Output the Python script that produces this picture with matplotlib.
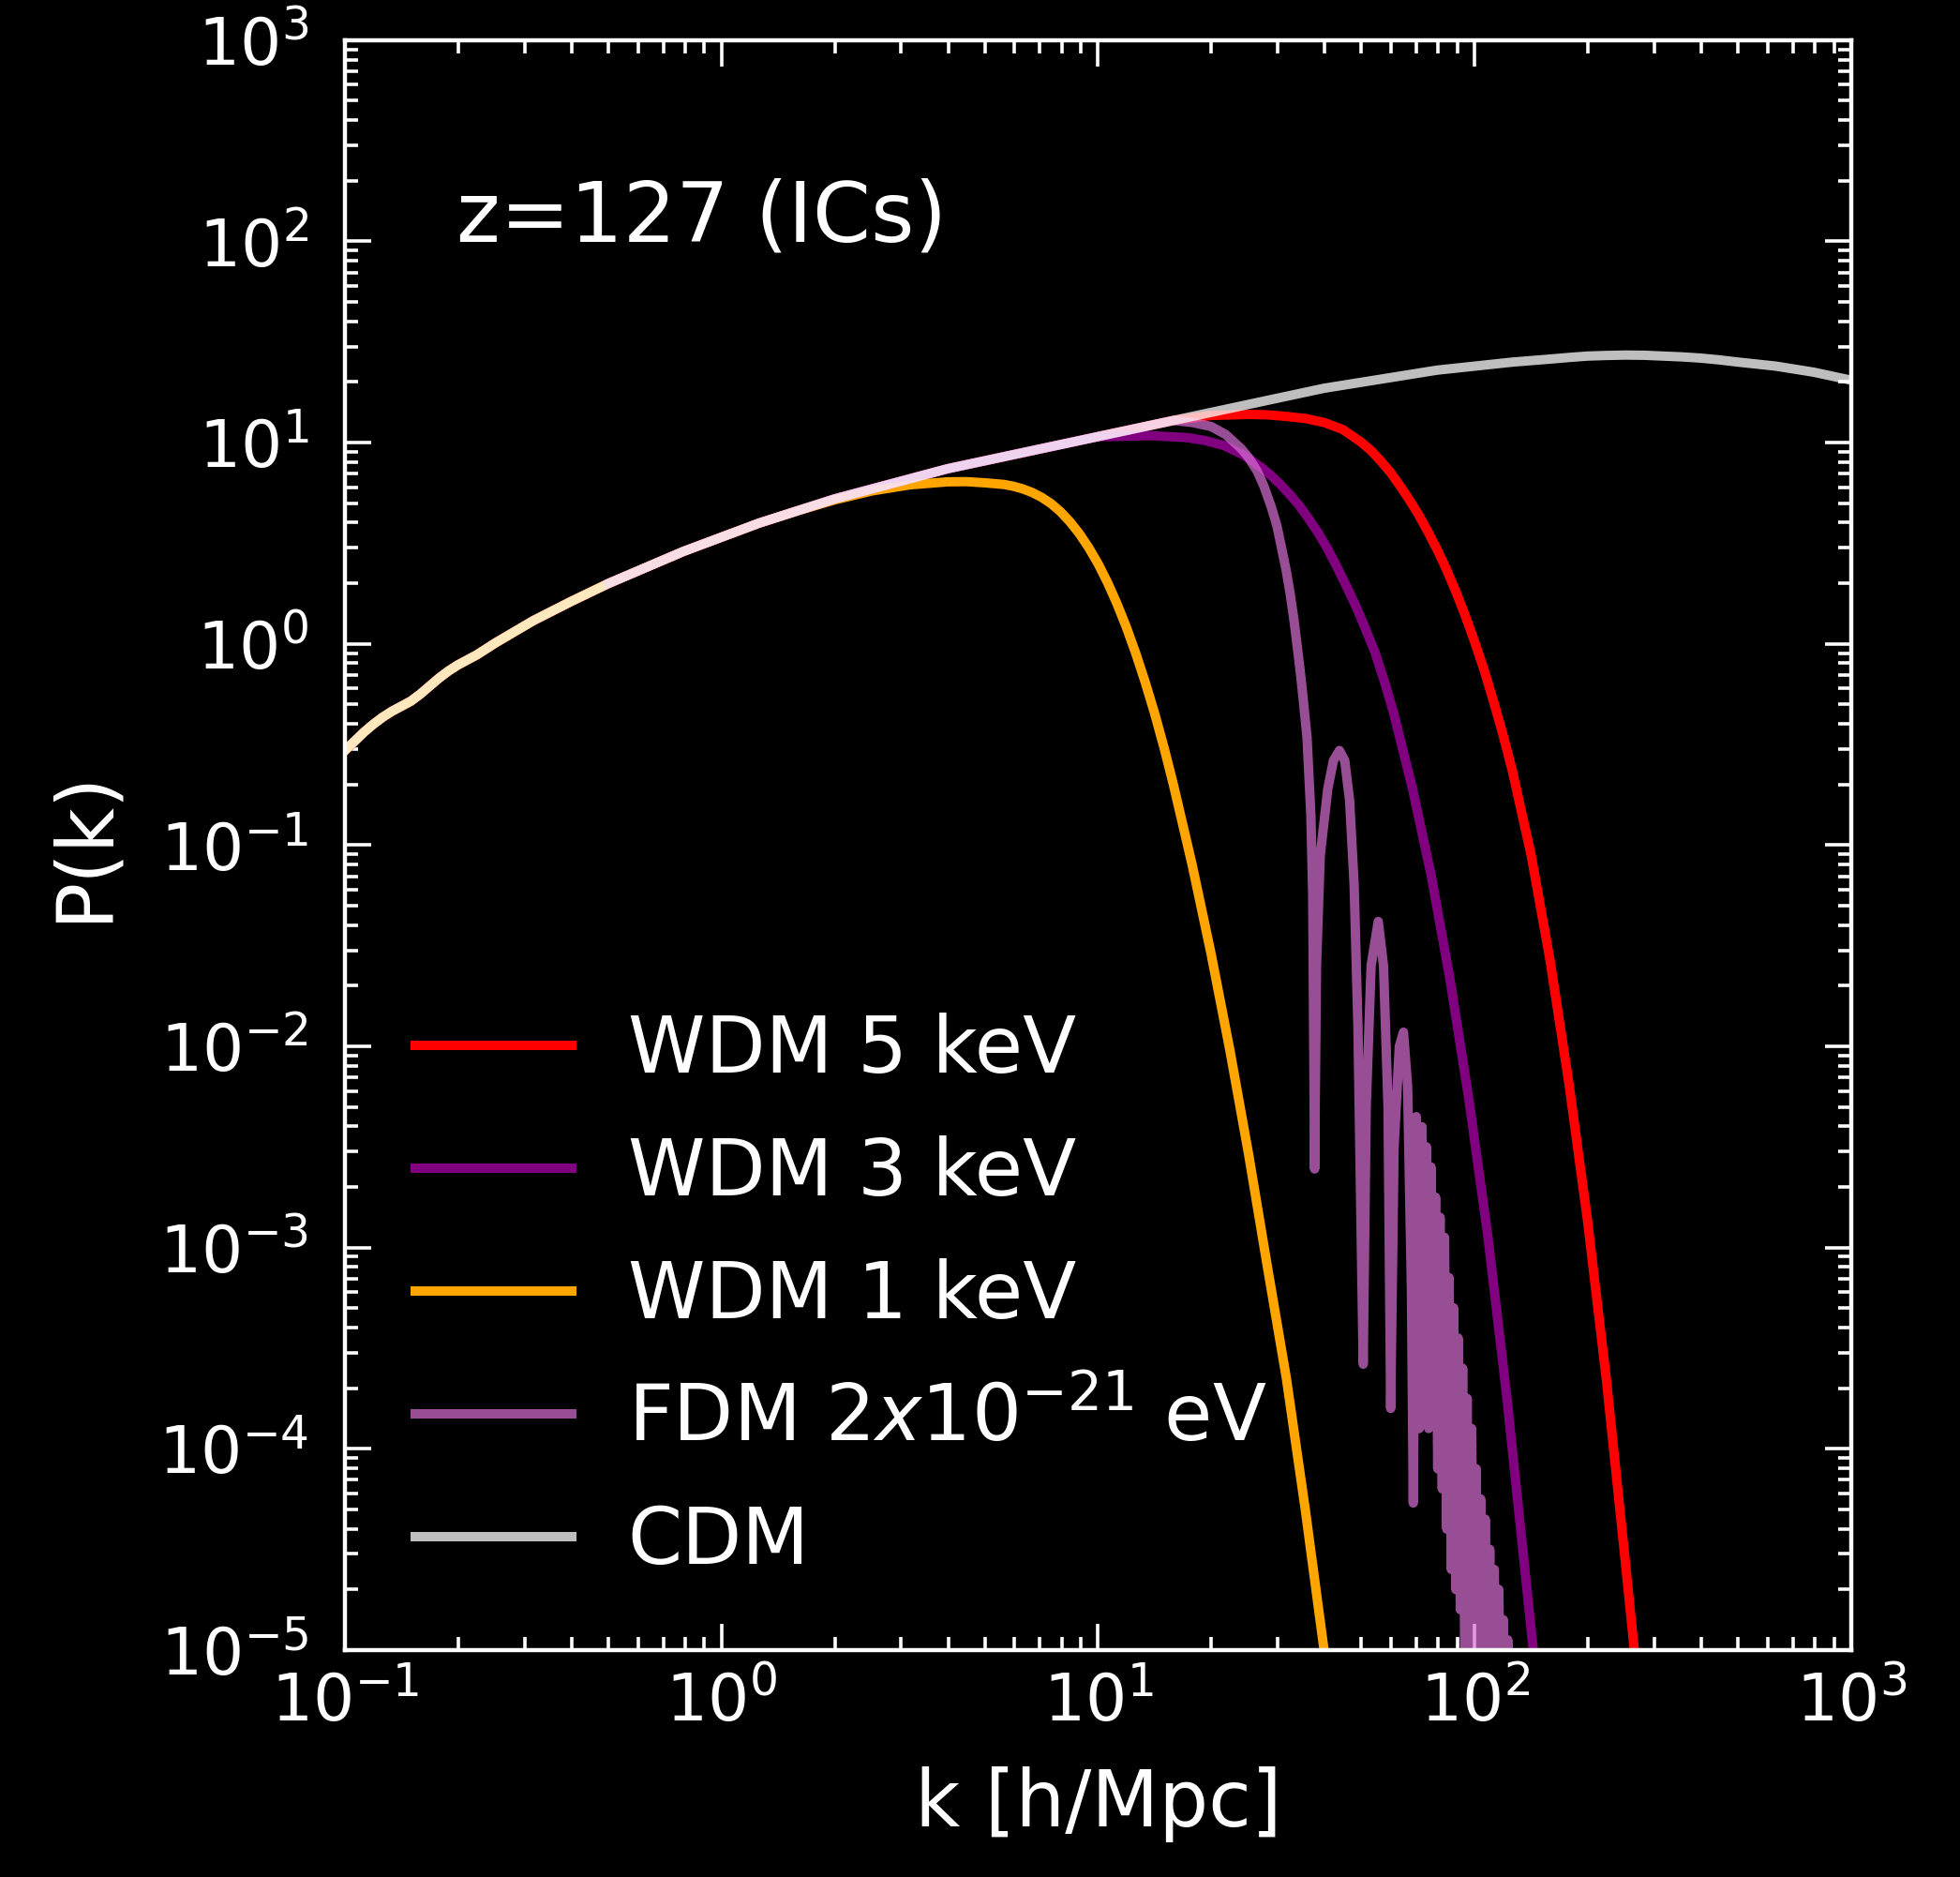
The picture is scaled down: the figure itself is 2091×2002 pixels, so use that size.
import numpy as np
import matplotlib.pyplot as plt

# values, stored as log10(k [h/Mpc]) and log10(P(k))
cdm_logk = [-1.0, -0.975, -0.95, -0.925, -0.9, -0.875, -0.85, -0.825, -0.8, -0.775, -0.75,
            -0.725, -0.7, -0.675, -0.65, -0.6, -0.55, -0.5, -0.4, -0.3,
            -0.2, -0.1, 0.0, 0.1, 0.2, 0.3, 0.4, 0.5, 0.6, 0.7, 0.8, 0.9, 1.0, 1.1, 1.2,
            1.3, 1.4, 1.5, 1.6, 1.7, 1.8, 1.9, 2.0, 2.1, 2.2, 2.25, 2.3, 2.35, 2.4, 2.45,
            2.5, 2.55, 2.6, 2.65, 2.7, 2.75, 2.8, 2.85, 2.9, 2.95, 3.0]
cdm_logP = [-0.53, -0.485, -0.44, -0.40, -0.365, -0.335, -0.31, -0.285, -0.25, -0.21, -0.17,
            -0.135, -0.105, -0.08, -0.055, 0.005, 0.06, 0.115, 0.21, 0.30,
            0.38, 0.46, 0.53, 0.60, 0.66, 0.72, 0.77, 0.82, 0.87, 0.91, 0.95, 0.99, 1.03, 1.07, 1.11,
            1.15, 1.19, 1.23, 1.27, 1.30, 1.33, 1.36, 1.38, 1.40, 1.415, 1.423, 1.43, 1.433, 1.435, 1.434,
            1.43, 1.426, 1.42, 1.411, 1.40, 1.39, 1.38, 1.365, 1.35, 1.33, 1.31]

# cut-off part of each model (below it they sit on the CDM curve)
wdm5_logk = [1.3, 1.4, 1.45, 1.5, 1.55, 1.6, 1.65, 1.7, 1.725, 1.75, 1.775, 1.8, 1.825, 1.85,
             1.875, 1.9, 1.925, 1.95, 1.975, 2.0, 2.025, 2.05, 2.075, 2.1, 2.15, 2.2, 2.25,
             2.3, 2.35, 2.4, 2.45]
wdm5_logP = [1.135, 1.14, 1.138, 1.13, 1.12, 1.10, 1.065, 1.00, 0.96, 0.91, 0.855, 0.79, 0.72,
             0.645, 0.56, 0.47, 0.37, 0.26, 0.14, 0.01, -0.13, -0.285, -0.45, -0.63, -1.05,
             -1.57, -2.18, -2.87, -3.66, -4.56, -5.48]

wdm3_logk = [1.035, 1.135, 1.235, 1.285, 1.335, 1.385, 1.435, 1.46, 1.485, 1.51, 1.535, 1.56,
             1.585, 1.61, 1.635, 1.66, 1.685, 1.71, 1.735, 1.76, 1.785, 1.835, 1.885, 1.935,
             1.985, 2.035, 2.085, 2.135, 2.185]
wdm3_logP = [1.03, 1.035, 1.025, 1.01, 0.985, 0.94, 0.875, 0.835, 0.79, 0.74, 0.685, 0.62,
             0.55, 0.47, 0.38, 0.285, 0.185, 0.075, -0.04, -0.185, -0.345, -0.72, -1.155, -1.673,
             -2.268, -2.943, -3.736, -4.63, -5.53]

wdm1_logk = [0.3, 0.4, 0.5, 0.6, 0.65, 0.7, 0.75, 0.775, 0.8, 0.825, 0.85, 0.875, 0.9, 0.925,
             0.95, 0.975, 1.0, 1.025, 1.05, 1.075, 1.1, 1.125, 1.15, 1.175, 1.2, 1.25,
             1.3, 1.35, 1.4, 1.45, 1.5, 1.55, 1.6, 1.62]
wdm1_logP = [0.715, 0.76, 0.79, 0.805, 0.806, 0.80, 0.792, 0.783, 0.77, 0.752, 0.728, 0.697,
             0.657, 0.607, 0.548, 0.478, 0.398, 0.305, 0.20, 0.083, -0.047, -0.19, -0.345, -0.515,
             -0.70, -1.10, -1.54, -2.02, -2.54, -3.10, -3.65, -4.30, -5.00, -5.30]

fdm_logk = [1.25, 1.30, 1.339, 1.38, 1.40, 1.422, 1.44, 1.46, 1.475, 1.488, 1.50, 1.51, 1.52,
            1.528, 1.537, 1.545, 1.555, 1.565, 1.570,
            1.575, 1.580, 1.59, 1.61, 1.625, 1.641, 1.655, 1.668, 1.68, 1.690, 1.704, 1.712,
            1.725, 1.744, 1.758, 1.77, 1.777, 1.786, 1.800, 1.811, 1.822, 1.832, 1.837,
            1.845, 1.853, 1.860, 1.866, 1.872, 1.878, 1.884, 1.890, 1.896, 1.902, 1.908, 1.914,
            1.920, 1.926, 1.932, 1.938, 1.944, 1.950, 1.956, 1.962, 1.968, 1.974, 1.980, 1.986,
            1.992, 1.998, 2.004, 2.010, 2.016, 2.022, 2.028, 2.034, 2.040, 2.046, 2.052, 2.058,
            2.064, 2.070, 2.076, 2.082, 2.088, 2.094]
fdm_logP = [1.10, 1.08, 1.04, 0.97, 0.925, 0.86, 0.785, 0.68, 0.585, 0.47, 0.36, 0.25, 0.12,
            0.0, -0.14, -0.28, -0.47, -0.85, -1.25,
            -2.61, -1.6, -1.05, -0.72, -0.58, -0.53, -0.58, -0.78, -1.2, -1.9, -3.58, -2.3,
            -1.6, -1.38, -1.6, -2.3, -3.80, -2.5, -2.0, -1.93, -2.2, -3.2, -4.27,
            -2.35, -3.9, -2.40, -3.5, -2.50, -3.9, -2.60, -3.8, -2.75, -4.1, -2.85, -4.2,
            -2.95, -4.4, -3.15, -4.6, -3.3, -4.7, -3.45, -4.8, -3.6, -5.1, -3.75, -5.1,
            -3.9, -5.2, -4.1, -5.2, -4.25, -5.3, -4.35, -5.3, -4.5, -5.3, -4.6, -5.4,
            -4.7, -5.5, -4.85, -5.5, -4.95, -5.6]


def with_cdm(tail_k, tail_P, k_from=-1.0):
    k = np.array(cdm_logk)
    P = np.array(cdm_logP)
    m = (k >= k_from) & (k < tail_k[0])
    return 10**np.concatenate([k[m], tail_k]), 10**np.concatenate([P[m], tail_P])


plt.style.use('dark_background')
plt.rcParams['font.family'] = ['DejaVu Sans']

fig = plt.figure(figsize=(2091/200, 2002/200), dpi=200)
ax = fig.add_axes([0.176, 0.121, 0.7685, 0.8576])

lw = 3.6
k, P = with_cdm(wdm5_logk, wdm5_logP)
ax.plot(k, P, color='red', lw=lw, label='WDM 5 keV')
k, P = with_cdm(wdm3_logk, wdm3_logP)
ax.plot(k, P, color='purple', lw=lw, label='WDM 3 keV')
k, P = with_cdm(wdm1_logk, wdm1_logP)
ax.plot(k, P, color='orange', lw=lw, label='WDM 1 keV')
k, P = with_cdm(fdm_logk, fdm_logP, k_from=-0.3)
ax.plot(k, P, color='orchid', alpha=0.7, lw=lw, label=r'FDM 2$x$10$^{-21}$ eV')
ax.plot(10**np.array(cdm_logk), 10**np.array(cdm_logP), color='white', alpha=0.75, lw=lw,
        label='CDM')

ax.set_xscale('log')
ax.set_yscale('log')
ax.set_xlim(1e-1, 1e3)
ax.set_ylim(1e-5, 1e3)

ax.set_xlabel('k [h/Mpc]', fontsize=30, labelpad=12)
ax.set_ylabel('P(k)', fontsize=30, labelpad=14)

ax.tick_params(which='both', direction='in', top=True, right=True, width=1.3)
ax.tick_params(which='major', length=10, labelsize=25)
ax.tick_params(axis='x', which='major', pad=8)
ax.tick_params(axis='y', which='major', pad=14)
ax.tick_params(which='minor', length=5)
for s in ax.spines.values():
    s.set_linewidth(1.6)

ax.text(0.074, 0.875, 'z=127 (ICs)', transform=ax.transAxes, fontsize=32, color='white')

ax.legend(loc='lower left', frameon=False, fontsize=30, labelspacing=0.6, handletextpad=0.72)

fig.savefig('out.png', dpi=200, facecolor='black')
